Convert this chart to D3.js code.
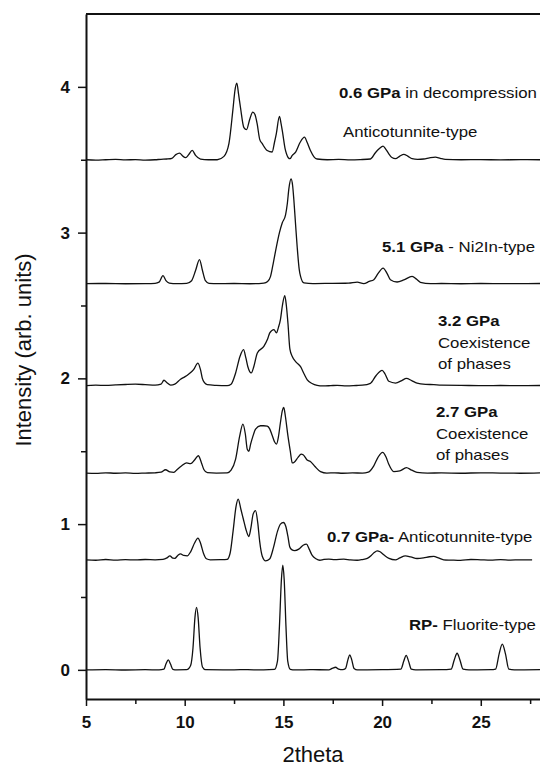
<!DOCTYPE html>
<html>
<head>
<meta charset="utf-8">
<script src="https://cdn.jsdelivr.net/npm/d3@7"></script>
<style>
  html, body { margin: 0; padding: 0; background: #fff; }
  svg { display: block; }
  text { font-family: "Liberation Sans", Arial, sans-serif; fill: #111; }
</style>
</head>
<body>
<svg id="chart" width="540" height="770"></svg>
<script>
// ---------------- DATA ----------------
const seriesNames = ["RP", "0.7 GPa", "2.7 GPa", "3.2 GPa", "5.1 GPa", "0.6 GPa"];

const rp = [[5,0],[6,0.002],[7,-0.001],[8,0.001],[8.7,0],[8.95,0.005],[9.05,0.04],[9.17,0.069],[9.28,0.04],[9.4,0.004],[9.6,0],[10.1,0.001],[10.3,0.03],[10.42,0.15],[10.52,0.36],[10.6,0.428],[10.68,0.36],[10.78,0.15],[10.9,0.02],[11.05,0.001],[12,0],[13,0.001],[14,0],[14.55,0.003],[14.7,0.06],[14.8,0.3],[14.9,0.62],[14.97,0.718],[15.04,0.62],[15.13,0.3],[15.22,0.06],[15.35,0.004],[15.6,0],[16.5,0.001],[17.3,0],[17.5,0.012],[17.64,0.018],[17.8,0.005],[18.0,0.001],[18.15,0.01],[18.27,0.07],[18.36,0.103],[18.46,0.07],[18.58,0.01],[18.75,0],[20,0.001],[20.95,0.005],[21.1,0.06],[21.22,0.1],[21.34,0.06],[21.48,0.005],[21.7,0],[23,0.001],[23.5,0.005],[23.66,0.07],[23.8,0.114],[23.94,0.07],[24.1,0.005],[24.4,0],[25.5,0.001],[25.75,0.005],[25.93,0.11],[26.09,0.176],[26.25,0.11],[26.42,0.005],[26.7,0],[28,0.001]];

const gpa07 = [[5,0.755],[5.5,0.752],[6,0.757],[6.5,0.753],[7,0.756],[7.5,0.754],[8,0.757],[8.5,0.755],[8.9,0.758],[9.1,0.768],[9.25,0.782],[9.4,0.766],[9.5,0.765],[9.65,0.785],[9.79,0.796],[9.95,0.785],[10.13,0.782],[10.3,0.81],[10.5,0.87],[10.67,0.904],[10.8,0.87],[10.95,0.8],[11.1,0.762],[11.3,0.755],[11.8,0.756],[12.15,0.758],[12.3,0.8],[12.45,0.95],[12.6,1.12],[12.71,1.171],[12.85,1.1],[12.97,1.035],[13.1,0.965],[13.25,0.915],[13.35,0.97],[13.47,1.07],[13.59,1.093],[13.7,1.01],[13.8,0.88],[13.93,0.78],[14.1,0.748],[14.3,0.76],[14.5,0.84],[14.7,0.95],[14.85,1.0],[15.0,1.011],[15.12,0.985],[15.23,0.915],[15.32,0.845],[15.42,0.825],[15.57,0.818],[15.78,0.828],[16.0,0.855],[16.17,0.862],[16.3,0.83],[16.46,0.785],[16.65,0.762],[16.85,0.752],[17.05,0.758],[17.3,0.76],[17.6,0.756],[18.06,0.76],[18.4,0.754],[18.74,0.752],[19.0,0.757],[19.25,0.765],[19.45,0.785],[19.6,0.805],[19.75,0.817],[19.9,0.81],[20.1,0.788],[20.35,0.765],[20.68,0.755],[20.9,0.768],[21.18,0.782],[21.45,0.775],[21.77,0.764],[22.1,0.768],[22.4,0.776],[22.62,0.778],[22.85,0.768],[23.12,0.755],[23.5,0.753],[23.97,0.751],[24.5,0.757],[25,0.755],[25.5,0.753],[26,0.756],[26.5,0.753],[27,0.755],[27.6,0.754]];

const gpa27 = [[5,1.35],[5.5,1.348],[6,1.352],[6.5,1.349],[7,1.351],[7.5,1.348],[8,1.35],[8.5,1.352],[8.8,1.356],[9.03,1.373],[9.25,1.358],[9.45,1.355],[9.62,1.375],[9.85,1.4],[10.1,1.42],[10.3,1.415],[10.5,1.44],[10.69,1.469],[10.85,1.42],[10.97,1.375],[11.15,1.353],[11.6,1.35],[12.15,1.351],[12.35,1.37],[12.58,1.446],[12.78,1.6],[12.95,1.686],[13.07,1.62],[13.17,1.514],[13.25,1.5],[13.34,1.549],[13.45,1.6],[13.59,1.652],[13.84,1.675],[14.0,1.675],[14.18,1.672],[14.3,1.655],[14.43,1.61],[14.55,1.565],[14.65,1.549],[14.75,1.6],[14.85,1.697],[14.95,1.78],[15.02,1.80],[15.1,1.74],[15.23,1.605],[15.35,1.5],[15.45,1.42],[15.55,1.425],[15.75,1.46],[15.9,1.48],[16.0,1.476],[16.2,1.44],[16.37,1.43],[16.6,1.395],[16.88,1.36],[17.2,1.35],[17.6,1.352],[18,1.349],[18.5,1.351],[19,1.35],[19.3,1.356],[19.58,1.4],[19.8,1.46],[20.03,1.492],[20.2,1.46],[20.34,1.41],[20.59,1.36],[20.9,1.365],[21.23,1.387],[21.5,1.37],[21.77,1.355],[22.3,1.35],[23,1.351],[24,1.349],[25,1.352],[26,1.35],[27,1.349],[28,1.351]];

const gpa32 = [[5,1.95],[5.5,1.953],[6,1.952],[6.5,1.955],[7,1.958],[7.5,1.96],[8,1.957],[8.5,1.953],[8.8,1.96],[8.95,1.987],[9.1,1.97],[9.29,1.953],[9.5,1.96],[9.79,1.994],[10.0,2.01],[10.21,2.03],[10.45,2.06],[10.67,2.105],[10.8,2.06],[10.89,2.002],[11.0,1.97],[11.14,1.957],[11.6,1.952],[12.15,1.95],[12.35,1.96],[12.58,2.037],[12.8,2.15],[12.98,2.197],[13.1,2.14],[13.2,2.08],[13.37,2.037],[13.5,2.08],[13.68,2.174],[14.01,2.22],[14.2,2.27],[14.31,2.312],[14.52,2.335],[14.65,2.312],[14.75,2.35],[14.85,2.403],[14.95,2.5],[15.07,2.567],[15.15,2.5],[15.23,2.38],[15.33,2.2],[15.45,2.15],[15.62,2.115],[15.87,2.08],[16.05,2.03],[16.21,1.99],[16.45,1.965],[16.71,1.952],[17.0,1.948],[17.4,1.95],[17.72,1.952],[18.2,1.948],[18.7,1.951],[19.0,1.953],[19.41,1.966],[19.7,2.02],[20.0,2.055],[20.15,2.03],[20.34,1.98],[20.68,1.968],[21.0,1.985],[21.23,2.0],[21.5,1.985],[21.77,1.968],[22.2,1.959],[22.62,1.957],[23,1.953],[24,1.952],[25,1.95],[26,1.951],[27,1.95],[28,1.951]];

const gpa51 = [[5,2.65],[6,2.651],[7,2.649],[8,2.65],[8.5,2.652],[8.7,2.66],[8.9,2.705],[9.05,2.67],[9.22,2.654],[9.6,2.65],[10.1,2.652],[10.35,2.67],[10.55,2.74],[10.75,2.815],[10.9,2.74],[11.05,2.67],[11.23,2.652],[11.7,2.65],[12.5,2.651],[13.3,2.649],[14.01,2.654],[14.2,2.665],[14.35,2.7],[14.5,2.8],[14.65,2.906],[14.8,3.0],[14.94,3.066],[15.11,3.122],[15.2,3.2],[15.28,3.304],[15.39,3.368],[15.47,3.32],[15.53,3.225],[15.62,3.05],[15.7,2.9],[15.8,2.75],[15.87,2.7],[16.04,2.655],[16.5,2.65],[17.5,2.652],[18.3,2.653],[18.74,2.66],[19.07,2.65],[19.35,2.665],[19.58,2.677],[19.8,2.72],[20.05,2.757],[20.25,2.72],[20.42,2.677],[20.76,2.661],[21.1,2.675],[21.52,2.7],[21.75,2.68],[21.94,2.659],[22.45,2.65],[23,2.651],[24,2.649],[25,2.651],[26,2.65],[27,2.65],[28,2.651]];

const gpa06 = [[5,3.5],[5.5,3.498],[6,3.5],[6.5,3.502],[7,3.499],[7.5,3.501],[8,3.498],[8.5,3.5],[8.8,3.503],[9.1,3.505],[9.35,3.51],[9.55,3.535],[9.74,3.546],[9.9,3.525],[10.05,3.514],[10.2,3.535],[10.38,3.564],[10.55,3.53],[10.8,3.505],[11.2,3.5],[11.65,3.5],[11.99,3.523],[12.24,3.61],[12.44,3.84],[12.55,3.98],[12.64,4.026],[12.73,3.95],[12.83,3.855],[13.0,3.72],[13.13,3.706],[13.3,3.78],[13.45,3.827],[13.56,3.81],[13.67,3.747],[13.8,3.64],[13.93,3.61],[14.18,3.563],[14.43,3.553],[14.55,3.62],[14.64,3.678],[14.8,3.797],[14.88,3.75],[14.97,3.678],[15.08,3.58],[15.16,3.54],[15.33,3.507],[15.45,3.53],[15.62,3.553],[15.85,3.62],[16.07,3.655],[16.2,3.62],[16.37,3.563],[16.55,3.52],[16.71,3.505],[17.22,3.5],[17.8,3.502],[18.4,3.499],[18.9,3.501],[19.41,3.505],[19.66,3.548],[19.85,3.575],[20.05,3.594],[20.2,3.57],[20.34,3.541],[20.5,3.515],[20.68,3.507],[20.9,3.525],[21.1,3.537],[21.3,3.525],[21.52,3.507],[21.8,3.503],[22.11,3.505],[22.4,3.513],[22.7,3.518],[22.95,3.51],[23.2,3.503],[24,3.5],[25,3.501],[26,3.499],[27,3.501],[28,3.5]];

const xTicks = [5, 10, 15, 20, 25];
const xMinorTicks = [7.5, 12.5, 17.5, 22.5, 27.5];
const yTicks = [0, 1, 2, 3, 4];
const yMinorTicks = [0.5, 1.5, 2.5, 3.5];
const xTitle = "2theta";
const yTitle = "Intensity (arb. units)";

// label lines: [bold part, normal part]
const labelLines = [
  ["0.6 GPa", " in decompression"],
  ["", "Anticotunnite-type"],
  ["5.1 GPa", " - Ni2In-type"],
  ["3.2 GPa", ""],
  ["", "Coexistence"],
  ["", "of phases"],
  ["2.7 GPa", ""],
  ["", "Coexistence"],
  ["", "of phases"],
  ["0.7 GPa-", " Anticotunnite-type"],
  ["RP-", " Fluorite-type"]
];

// ---------------- LAYOUT ----------------
const svg = d3.select("#chart");
const x = d3.scaleLinear().domain([5, 28]).range([86, 540]);
const y = d3.scaleLinear().domain([-0.2, 4.5]).range([699, 14]);

// label anchor positions (pixels)
const labelPos = [[339,98],[343,137],[382,252],[438,326],[438,348],[438,369],[436,417],[436,439],[436,460],[327,542],[409,630]];

svg.append("rect").attr("width", 540).attr("height", 770).attr("fill", "#fff");

svg.append("defs").append("clipPath").attr("id", "clip")
  .append("rect").attr("x", x(5)).attr("y", y(4.5)).attr("width", x(28) - x(5)).attr("height", y(-0.2) - y(4.5));

const line = d3.line().x(d => x(d[0])).y(d => y(d[1])).curve(d3.curveMonotoneX);
const allSeries = [rp, gpa07, gpa27, gpa32, gpa51, gpa06];
svg.append("g").attr("clip-path", "url(#clip)")
  .selectAll("path").data(allSeries).join("path")
  .attr("d", line)
  .attr("fill", "none")
  .attr("stroke", "#111")
  .attr("stroke-width", 1.3)
  .attr("stroke-linejoin", "round");

// axes
svg.append("g").attr("transform", `translate(0,${y(-0.2)})`)
  .call(d3.axisBottom(x).tickValues(xTicks).tickSize(7).tickSizeOuter(0).tickPadding(10).tickFormat(d3.format("d")));
svg.append("g").attr("transform", `translate(0,${y(-0.2)})`)
  .call(d3.axisBottom(x).tickValues(xMinorTicks).tickSize(5).tickSizeOuter(0).tickFormat(""))
  .select(".domain").remove();
svg.append("g").attr("transform", `translate(${x(5)},0)`)
  .call(d3.axisLeft(y).tickValues(yTicks).tickSize(8).tickSizeOuter(0).tickPadding(8).tickFormat(d3.format("d")));
svg.append("g").attr("transform", `translate(${x(5)},0)`)
  .call(d3.axisLeft(y).tickValues(yMinorTicks).tickSize(5).tickSizeOuter(0).tickFormat(""))
  .select(".domain").remove();

svg.selectAll(".domain").attr("stroke", "#111").attr("stroke-width", 2);
svg.selectAll(".tick line").attr("stroke", "#111").attr("stroke-width", 1.5);
svg.selectAll(".tick text").attr("font-size", 17).attr("font-weight", "bold")
  .attr("font-family", "'Liberation Sans', Arial, sans-serif").attr("fill", "#111");

// top frame line
svg.append("line").attr("x1", x(5)).attr("x2", 540).attr("y1", y(4.5)).attr("y2", y(4.5))
  .attr("stroke", "#111").attr("stroke-width", 2);

// axis titles
svg.append("text").attr("x", (x(5) + x(28)) / 2).attr("y", 762)
  .attr("text-anchor", "middle").attr("font-size", 22).text(xTitle);
svg.append("text").attr("transform", "translate(31,350) rotate(-90)")
  .attr("text-anchor", "middle").attr("font-size", 22).text(yTitle);

// annotations
labelLines.forEach((ln, i) => {
  const g = svg.append("g").attr("transform", `translate(${labelPos[i][0]},${labelPos[i][1]}) scale(1.2,1)`);
  const t = g.append("text").attr("x", 0).attr("y", 0).attr("font-size", 14);
  if (ln[0]) t.append("tspan").attr("font-weight", "bold").text(ln[0]);
  if (ln[1]) t.append("tspan").text(ln[1]);
});
</script>
</body>
</html>
